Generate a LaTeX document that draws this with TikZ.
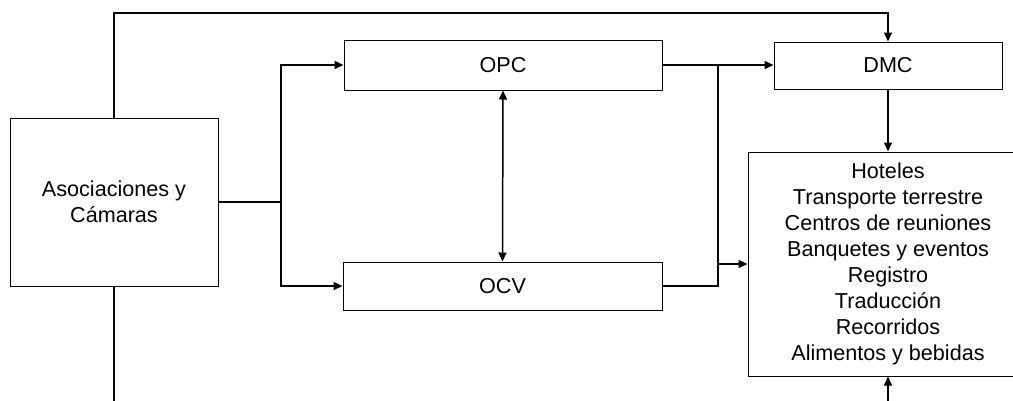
\documentclass[tikz,border=0pt]{standalone}
\usepackage{fontspec}
\setmainfont{Liberation Sans}
\usetikzlibrary{arrows.meta}

\tikzset{
  caja/.style={draw, line width=1pt, align=center, inner sep=0pt},
  linea/.style={line width=1.5pt},
  flecha/.style={line width=1.5pt, -{Triangle[length=9pt,width=8pt]}},
  doble/.style={line width=1.5pt, {Triangle[length=9pt,width=8pt]}-{Triangle[length=9pt,width=8pt]}},
}

\begin{document}
\begin{tikzpicture}[x=1pt, y=-1pt, font=\fontsize{21.6}{26}\selectfont]
			% Marco
			\useasboundingbox (0,0) rectangle (1013,400);
			% Cajas
			\node[caja, minimum width=208, minimum height=168] (asoc) at (114,202) {Asociaciones y\\Cámaras};
			\node[caja, minimum width=318, minimum height=50] (opc) at (503,65) {OPC};
			\node[caja, minimum width=319, minimum height=48] (ocv) at (502.5,286) {OCV};
			\node[caja, minimum width=228, minimum height=47] (dmc) at (888,65.5) {DMC};
			\node[caja, minimum width=280, minimum height=224] (serv) at (888,264) {Hoteles\\Transporte terrestre\\Centros de reuniones\\Banquetes y eventos\\Registro\\Traducción\\Recorridos\\Alimentos y bebidas};
			% Puntos de union
			\coordinate (j1) at (281,202);
			\coordinate (j2) at (718,264);
			\coordinate (arriba) at (500,13);
			\coordinate (abajo) at (500,402);
			% Conexiones
			\draw[linea] (asoc.east) -- (j1);
			\draw[flecha] (j1) |- (opc.west);
			\draw[flecha] (j1) |- (ocv.west);
			\draw[doble] (opc.south) -- (ocv.north);
			\draw[flecha] (opc.east) -- (opc.east -| dmc.west);
			\draw[linea] (ocv.east) -| (j2 |- opc.east);
			\draw[flecha] (j2) -- (j2 -| serv.west);
			\draw[flecha] (asoc.north) |- (arriba) -| (dmc.north);
			\draw[flecha] (dmc.south) -- (serv.north);
			\draw[linea] (asoc.south) -- (asoc.south |- abajo);
			\draw[flecha] (serv.south |- abajo) -- (serv.south);
\end{tikzpicture}
\end{document}
